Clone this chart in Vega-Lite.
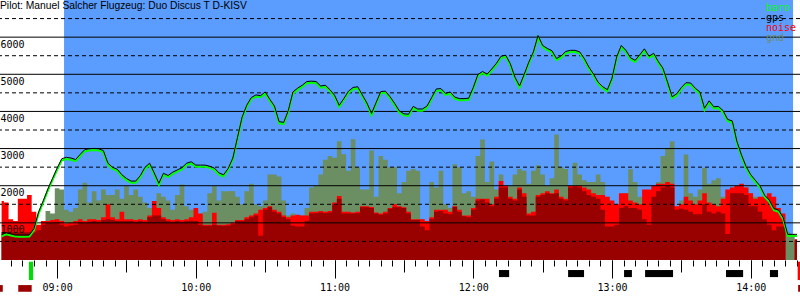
{
  "$schema": "https://vega.github.io/schema/vega-lite/v6.json",
  "width": 800,
  "height": 260,
  "autosize": {"type": "none"},
  "padding": {"left": 0, "top": 0, "right": 0, "bottom": 40},
  "background": "white",
  "title": {"text": "Pilot: Manuel Salcher Flugzeug: Duo Discus T D-KISV", "anchor": "start", "frame": "group", "orient": "top", "offset": -11, "font": "Liberation Sans", "fontSize": 10.3, "fontWeight": "normal", "color": "black"},
  "config": {"view": {"stroke": null}},
  "resolve": {"axis": {"x": "independent"}},
  "datasets": {
    "flight": [{"t": 543.0, "t2": 858.3}],
    "grid": [
      {"v": 500, "s": "dash"}, {"v": 1000, "s": "solid"}, {"v": 1500, "s": "dash"}, {"v": 2000, "s": "solid"},
      {"v": 2500, "s": "dash"}, {"v": 3000, "s": "solid"}, {"v": 3500, "s": "dash"}, {"v": 4000, "s": "solid"},
      {"v": 4500, "s": "dash"}, {"v": 5000, "s": "solid"}, {"v": 5500, "s": "dash"}, {"v": 6000, "s": "solid"},
      {"v": 6500, "s": "dash"}
    ],
    "marks": [
      {"t": 731.1, "t2": 735.5, "a": -270, "a2": -460, "kind": "circling"},
      {"t": 761.0, "t2": 767.9, "a": -270, "a2": -460, "kind": "circling"},
      {"t": 785.2, "t2": 788.6, "a": -270, "a2": -460, "kind": "circling"},
      {"t": 794.3, "t2": 806.4, "a": -270, "a2": -460, "kind": "circling"},
      {"t": 829.3, "t2": 836.7, "a": -270, "a2": -460, "kind": "circling"},
      {"t": 848.3, "t2": 851.8, "a": -270, "a2": -460, "kind": "circling"},
      {"t": 527.8, "t2": 529.6, "a": -46, "a2": -540, "kind": "launch"},
      {"t": 860.3, "t2": 861.3, "a": -46, "a2": -540, "kind": "landing"},
      {"t": 515.3, "t2": 516.5, "a": -675, "a2": -855, "kind": "engine"},
      {"t": 523.2, "t2": 529.0, "a": -675, "a2": -855, "kind": "engine"},
      {"t": 860.5, "t2": 861.3, "a": -675, "a2": -855, "kind": "engine"}
    ],
    "trace": [
      {"t":516,"alt":640,"gps":685,"gnd":600,"hi":1590,"lo":750},
      {"t":518,"alt":690,"gps":735,"gnd":600,"hi":1550,"lo":750},
      {"t":520,"alt":660,"gps":705,"gnd":600,"hi":1100,"lo":750},
      {"t":522,"alt":630,"gps":675,"gnd":600,"hi":1050,"lo":750},
      {"t":524,"alt":628,"gps":673,"gnd":600,"hi":1650,"lo":750},
      {"t":526,"alt":628,"gps":673,"gnd":600,"hi":1650,"lo":750},
      {"t":528,"alt":630,"gps":675,"gnd":600,"hi":1750,"lo":750},
      {"t":530,"alt":800,"gps":845,"gnd":600,"hi":1300,"lo":750},
      {"t":532,"alt":1250,"gps":1295,"gnd":600,"hi":950,"lo":800},
      {"t":534,"alt":1550,"gps":1595,"gnd":600,"hi":1050,"lo":950},
      {"t":536,"alt":1870,"gps":1915,"gnd":1318,"hi":1050,"lo":1000},
      {"t":538,"alt":2150,"gps":2195,"gnd":1250,"hi":1080,"lo":1000},
      {"t":540,"alt":2430,"gps":2475,"gnd":1930,"hi":1100,"lo":1020},
      {"t":542,"alt":2680,"gps":2725,"gnd":1900,"hi":1050,"lo":950},
      {"t":544,"alt":2720,"gps":2765,"gnd":1350,"hi":980,"lo":900},
      {"t":546,"alt":2700,"gps":2745,"gnd":1300,"hi":1000,"lo":930},
      {"t":548,"alt":2660,"gps":2705,"gnd":1400,"hi":1050,"lo":950},
      {"t":550,"alt":2800,"gps":2845,"gnd":1900,"hi":1100,"lo":1020},
      {"t":552,"alt":2930,"gps":2975,"gnd":2080,"hi":1050,"lo":1000},
      {"t":554,"alt":2950,"gps":2995,"gnd":1550,"hi":1100,"lo":1030},
      {"t":556,"alt":2960,"gps":3005,"gnd":1850,"hi":1100,"lo":1050},
      {"t":558,"alt":2950,"gps":2995,"gnd":1600,"hi":1080,"lo":1030},
      {"t":560,"alt":2900,"gps":2945,"gnd":1900,"hi":1150,"lo":1080},
      {"t":562,"alt":2560,"gps":2605,"gnd":1750,"hi":1500,"lo":1100},
      {"t":564,"alt":2450,"gps":2495,"gnd":1750,"hi":1150,"lo":1080},
      {"t":566,"alt":2400,"gps":2445,"gnd":1900,"hi":1100,"lo":1050},
      {"t":568,"alt":2250,"gps":2295,"gnd":1650,"hi":1300,"lo":1050},
      {"t":570,"alt":2150,"gps":2195,"gnd":1990,"hi":1100,"lo":1050},
      {"t":572,"alt":2080,"gps":2125,"gnd":1750,"hi":1100,"lo":1050},
      {"t":574,"alt":2080,"gps":2125,"gnd":1900,"hi":1080,"lo":1030},
      {"t":576,"alt":2230,"gps":2275,"gnd":1700,"hi":1100,"lo":1050},
      {"t":578,"alt":2450,"gps":2495,"gnd":1550,"hi":1080,"lo":1030},
      {"t":580,"alt":2560,"gps":2605,"gnd":1400,"hi":1200,"lo":1150},
      {"t":582,"alt":2300,"gps":2345,"gnd":1500,"hi":1590,"lo":1200},
      {"t":584,"alt":2020,"gps":2065,"gnd":1800,"hi":1400,"lo":1200},
      {"t":586,"alt":2290,"gps":2335,"gnd":1700,"hi":1150,"lo":1100},
      {"t":588,"alt":2230,"gps":2275,"gnd":1600,"hi":1100,"lo":1050},
      {"t":590,"alt":2320,"gps":2365,"gnd":1350,"hi":1080,"lo":1030},
      {"t":592,"alt":2380,"gps":2425,"gnd":1750,"hi":1100,"lo":1050},
      {"t":594,"alt":2440,"gps":2485,"gnd":2036,"hi":1080,"lo":1030},
      {"t":596,"alt":2560,"gps":2605,"gnd":1450,"hi":1100,"lo":1050},
      {"t":598,"alt":2600,"gps":2645,"gnd":1350,"hi":1150,"lo":1060},
      {"t":600,"alt":2510,"gps":2555,"gnd":1350,"hi":1400,"lo":1050},
      {"t":602,"alt":2510,"gps":2555,"gnd":1200,"hi":1250,"lo":950},
      {"t":604,"alt":2510,"gps":2555,"gnd":1300,"hi":950,"lo":920},
      {"t":606,"alt":2480,"gps":2525,"gnd":1800,"hi":950,"lo":920},
      {"t":608,"alt":2430,"gps":2475,"gnd":1990,"hi":1270,"lo":950},
      {"t":610,"alt":2300,"gps":2345,"gnd":1600,"hi":950,"lo":930},
      {"t":612,"alt":2250,"gps":2295,"gnd":1850,"hi":950,"lo":920},
      {"t":614,"alt":2420,"gps":2465,"gnd":1850,"hi":960,"lo":930},
      {"t":616,"alt":2700,"gps":2745,"gnd":1860,"hi":1000,"lo":960},
      {"t":618,"alt":3250,"gps":3295,"gnd":1700,"hi":1080,"lo":1050},
      {"t":620,"alt":3800,"gps":3845,"gnd":1500,"hi":1080,"lo":1050},
      {"t":622,"alt":4120,"gps":4165,"gnd":1850,"hi":1150,"lo":1100},
      {"t":624,"alt":4330,"gps":4375,"gnd":2050,"hi":1200,"lo":1150},
      {"t":626,"alt":4400,"gps":4445,"gnd":1500,"hi":1250,"lo":1200},
      {"t":628,"alt":4380,"gps":4425,"gnd":1450,"hi":1350,"lo":650},
      {"t":630,"alt":4480,"gps":4525,"gnd":1600,"hi":1400,"lo":1350},
      {"t":632,"alt":4280,"gps":4325,"gnd":2300,"hi":1450,"lo":1420},
      {"t":634,"alt":4100,"gps":4145,"gnd":2300,"hi":1350,"lo":1300},
      {"t":636,"alt":3680,"gps":3725,"gnd":2250,"hi":1300,"lo":1250},
      {"t":638,"alt":3660,"gps":3705,"gnd":1600,"hi":1200,"lo":1150},
      {"t":640,"alt":3980,"gps":4025,"gnd":1200,"hi":1150,"lo":1100},
      {"t":642,"alt":4480,"gps":4525,"gnd":1250,"hi":1200,"lo":920},
      {"t":644,"alt":4580,"gps":4625,"gnd":1200,"hi":1220,"lo":900},
      {"t":646,"alt":4660,"gps":4705,"gnd":1200,"hi":1200,"lo":900},
      {"t":648,"alt":4760,"gps":4805,"gnd":1400,"hi":1200,"lo":1050},
      {"t":650,"alt":4770,"gps":4815,"gnd":1950,"hi":1300,"lo":1250},
      {"t":652,"alt":4760,"gps":4805,"gnd":2000,"hi":1300,"lo":1260},
      {"t":654,"alt":4640,"gps":4685,"gnd":2300,"hi":1320,"lo":1280},
      {"t":656,"alt":4660,"gps":4705,"gnd":2700,"hi":1300,"lo":1260},
      {"t":658,"alt":4540,"gps":4585,"gnd":2800,"hi":1320,"lo":1280},
      {"t":660,"alt":4390,"gps":4435,"gnd":2750,"hi":1550,"lo":1500},
      {"t":662,"alt":4120,"gps":4165,"gnd":3200,"hi":1720,"lo":1650},
      {"t":664,"alt":4300,"gps":4345,"gnd":2850,"hi":1300,"lo":1250},
      {"t":666,"alt":4500,"gps":4545,"gnd":2400,"hi":1300,"lo":1250},
      {"t":668,"alt":4600,"gps":4645,"gnd":3250,"hi":1280,"lo":1250},
      {"t":670,"alt":4620,"gps":4665,"gnd":2500,"hi":1300,"lo":1260},
      {"t":672,"alt":4400,"gps":4445,"gnd":1900,"hi":1450,"lo":1420},
      {"t":674,"alt":4180,"gps":4225,"gnd":1900,"hi":1450,"lo":1420},
      {"t":676,"alt":3900,"gps":3945,"gnd":2950,"hi":1430,"lo":1400},
      {"t":678,"alt":4200,"gps":4245,"gnd":1700,"hi":1280,"lo":1250},
      {"t":680,"alt":4490,"gps":4535,"gnd":2800,"hi":1250,"lo":1220},
      {"t":682,"alt":4500,"gps":4545,"gnd":2700,"hi":1300,"lo":1250},
      {"t":684,"alt":4350,"gps":4395,"gnd":2500,"hi":1400,"lo":1380},
      {"t":686,"alt":4170,"gps":4215,"gnd":2500,"hi":1500,"lo":1420},
      {"t":688,"alt":3970,"gps":4015,"gnd":1800,"hi":1450,"lo":1420},
      {"t":690,"alt":3890,"gps":3935,"gnd":2100,"hi":1420,"lo":1400},
      {"t":692,"alt":3880,"gps":3925,"gnd":2400,"hi":1300,"lo":1250},
      {"t":694,"alt":4090,"gps":4135,"gnd":2450,"hi":1100,"lo":1080},
      {"t":696,"alt":4020,"gps":4065,"gnd":2400,"hi":1100,"lo":1080},
      {"t":698,"alt":4020,"gps":4065,"gnd":1100,"hi":1100,"lo":900},
      {"t":700,"alt":4100,"gps":4145,"gnd":1050,"hi":1050,"lo":800},
      {"t":702,"alt":4330,"gps":4375,"gnd":2100,"hi":1150,"lo":1100},
      {"t":704,"alt":4560,"gps":4605,"gnd":1950,"hi":1350,"lo":1300},
      {"t":706,"alt":4570,"gps":4615,"gnd":2400,"hi":1350,"lo":1320},
      {"t":708,"alt":4440,"gps":4485,"gnd":1500,"hi":1350,"lo":1250},
      {"t":710,"alt":4480,"gps":4525,"gnd":1400,"hi":1300,"lo":1230},
      {"t":712,"alt":4340,"gps":4385,"gnd":2575,"hi":1450,"lo":1430},
      {"t":714,"alt":4300,"gps":4345,"gnd":2500,"hi":1350,"lo":1300},
      {"t":716,"alt":4300,"gps":4345,"gnd":1800,"hi":1200,"lo":1180},
      {"t":718,"alt":4310,"gps":4355,"gnd":1850,"hi":1200,"lo":1150},
      {"t":720,"alt":4600,"gps":4645,"gnd":1700,"hi":1400,"lo":1350},
      {"t":722,"alt":4950,"gps":4995,"gnd":2800,"hi":1650,"lo":1600},
      {"t":724,"alt":5030,"gps":5075,"gnd":3247,"hi":1650,"lo":1630},
      {"t":726,"alt":4960,"gps":5005,"gnd":2100,"hi":1650,"lo":1550},
      {"t":728,"alt":5100,"gps":5145,"gnd":2650,"hi":1500,"lo":1450},
      {"t":730,"alt":5250,"gps":5295,"gnd":1900,"hi":1700,"lo":1650},
      {"t":732,"alt":5440,"gps":5485,"gnd":2300,"hi":2126,"lo":1950},
      {"t":734,"alt":5470,"gps":5515,"gnd":1950,"hi":2000,"lo":1950},
      {"t":736,"alt":5240,"gps":5285,"gnd":2000,"hi":1700,"lo":1650},
      {"t":738,"alt":4880,"gps":4925,"gnd":2300,"hi":1650,"lo":1600},
      {"t":740,"alt":4640,"gps":4685,"gnd":2450,"hi":1950,"lo":1900},
      {"t":742,"alt":4950,"gps":4995,"gnd":2400,"hi":1800,"lo":1700},
      {"t":744,"alt":5280,"gps":5325,"gnd":2050,"hi":1250,"lo":1200},
      {"t":746,"alt":5560,"gps":5605,"gnd":2400,"hi":1300,"lo":1200},
      {"t":748,"alt":6000,"gps":6045,"gnd":2550,"hi":1750,"lo":1700},
      {"t":750,"alt":5730,"gps":5775,"gnd":2300,"hi":1800,"lo":1750},
      {"t":752,"alt":5650,"gps":5695,"gnd":2000,"hi":1850,"lo":1800},
      {"t":754,"alt":5590,"gps":5635,"gnd":2200,"hi":1800,"lo":1780},
      {"t":756,"alt":5380,"gps":5425,"gnd":3380,"hi":1900,"lo":1800},
      {"t":758,"alt":5450,"gps":5495,"gnd":2500,"hi":1700,"lo":1650},
      {"t":760,"alt":5570,"gps":5615,"gnd":2450,"hi":1650,"lo":1600},
      {"t":762,"alt":5600,"gps":5645,"gnd":2000,"hi":2000,"lo":1950},
      {"t":764,"alt":5600,"gps":5645,"gnd":2620,"hi":2000,"lo":1980},
      {"t":766,"alt":5560,"gps":5605,"gnd":2300,"hi":2000,"lo":1950},
      {"t":768,"alt":5380,"gps":5425,"gnd":2150,"hi":1950,"lo":1850},
      {"t":770,"alt":5150,"gps":5195,"gnd":2100,"hi":1900,"lo":1750},
      {"t":772,"alt":4960,"gps":5005,"gnd":2100,"hi":1800,"lo":1700},
      {"t":774,"alt":4740,"gps":4785,"gnd":2300,"hi":1750,"lo":1650},
      {"t":776,"alt":4620,"gps":4665,"gnd":2100,"hi":1750,"lo":1350},
      {"t":778,"alt":4540,"gps":4585,"gnd":1700,"hi":1700,"lo":900},
      {"t":780,"alt":4850,"gps":4895,"gnd":1500,"hi":1600,"lo":900},
      {"t":782,"alt":5420,"gps":5465,"gnd":1500,"hi":1500,"lo":950},
      {"t":784,"alt":5730,"gps":5775,"gnd":1700,"hi":1800,"lo":1400},
      {"t":786,"alt":5600,"gps":5645,"gnd":1800,"hi":1800,"lo":1450},
      {"t":788,"alt":5400,"gps":5445,"gnd":2440,"hi":1600,"lo":1400},
      {"t":790,"alt":5330,"gps":5375,"gnd":2100,"hi":1550,"lo":1400},
      {"t":792,"alt":5480,"gps":5525,"gnd":1700,"hi":1500,"lo":1350},
      {"t":794,"alt":5640,"gps":5685,"gnd":1500,"hi":1900,"lo":1100},
      {"t":796,"alt":5440,"gps":5485,"gnd":1700,"hi":1900,"lo":950},
      {"t":798,"alt":5520,"gps":5565,"gnd":1900,"hi":2000,"lo":1700},
      {"t":800,"alt":5300,"gps":5345,"gnd":2100,"hi":2050,"lo":1850},
      {"t":802,"alt":5120,"gps":5165,"gnd":2800,"hi":2050,"lo":1950},
      {"t":804,"alt":4750,"gps":4795,"gnd":3000,"hi":2100,"lo":2000},
      {"t":806,"alt":4350,"gps":4395,"gnd":3200,"hi":2050,"lo":1950},
      {"t":808,"alt":4430,"gps":4475,"gnd":1350,"hi":1450,"lo":1350},
      {"t":810,"alt":4600,"gps":4645,"gnd":1600,"hi":1500,"lo":1380},
      {"t":812,"alt":4730,"gps":4775,"gnd":2840,"hi":1700,"lo":1350},
      {"t":814,"alt":4720,"gps":4765,"gnd":1800,"hi":1600,"lo":1300},
      {"t":816,"alt":4580,"gps":4625,"gnd":1700,"hi":1500,"lo":1230},
      {"t":818,"alt":4480,"gps":4525,"gnd":1900,"hi":1600,"lo":1230},
      {"t":820,"alt":4040,"gps":4085,"gnd":2480,"hi":1800,"lo":1500},
      {"t":822,"alt":4240,"gps":4285,"gnd":2050,"hi":1550,"lo":1300},
      {"t":824,"alt":4080,"gps":4125,"gnd":2150,"hi":1500,"lo":1250},
      {"t":826,"alt":4090,"gps":4135,"gnd":2200,"hi":1450,"lo":1300},
      {"t":828,"alt":3980,"gps":4025,"gnd":1700,"hi":1650,"lo":1250},
      {"t":830,"alt":3740,"gps":3785,"gnd":1500,"hi":1900,"lo":700},
      {"t":832,"alt":3700,"gps":3745,"gnd":1950,"hi":1950,"lo":1800},
      {"t":834,"alt":3150,"gps":3195,"gnd":2000,"hi":2000,"lo":1800},
      {"t":836,"alt":2780,"gps":2825,"gnd":2000,"hi":2050,"lo":1800},
      {"t":838,"alt":2470,"gps":2515,"gnd":1950,"hi":1950,"lo":1750},
      {"t":840,"alt":2250,"gps":2295,"gnd":1800,"hi":1800,"lo":1450},
      {"t":842,"alt":2100,"gps":2145,"gnd":1700,"hi":1650,"lo":1450},
      {"t":844,"alt":1950,"gps":1995,"gnd":1650,"hi":1700,"lo":1300},
      {"t":846,"alt":1700,"gps":1745,"gnd":1600,"hi":1700,"lo":1100},
      {"t":848,"alt":1570,"gps":1615,"gnd":1550,"hi":1800,"lo":950},
      {"t":850,"alt":1340,"gps":1385,"gnd":1500,"hi":1700,"lo":800},
      {"t":852,"alt":1300,"gps":1345,"gnd":1350,"hi":1400,"lo":900},
      {"t":854,"alt":1100,"gps":1145,"gnd":750,"hi":1250,"lo":900},
      {"t":856,"alt":646,"gps":691,"gnd":740,"hi":0,"lo":0},
      {"t":858,"alt":646,"gps":691,"gnd":700,"hi":0,"lo":0},
      {"t":860,"alt":646,"gps":691,"gnd":500,"hi":550,"lo":550}
    ]
  },
  "layer": [
    {
      "data": {"name": "flight"},
      "mark": {"type": "rect", "color": "#5b9cff"},
      "encoding": {
        "x": {
          "field": "t", "type": "quantitative", "title": null,
          "scale": {"domain": [515.3, 861.3], "nice": false, "zero": false},
          "axis": {
            "orient": "bottom",
            "values": [520,525,530,535,540,545,550,555,560,565,570,575,580,585,590,595,600,605,610,615,620,625,630,635,640,645,650,655,660,665,670,675,680,685,690,695,700,705,710,715,720,725,730,735,740,745,750,755,760,765,770,775,780,785,790,795,800,805,810,815,820,825,830,835,840,845,850,855,860],
            "domain": false, "grid": false, "ticks": true, "tickColor": "black", "tickWidth": 1, "tickSize": 6, "labels": false, "title": null
          }
        },
        "x2": {"field": "t2"}
      }
    },
    {
      "data": {"name": "trace"},
      "mark": {"type": "area", "interpolate": "step"},
      "encoding": {
        "x": {
          "field": "t", "type": "quantitative", "title": null,
          "axis": {
            "orient": "bottom",
            "values": [540, 600, 660, 720, 780, 840],
            "domain": false, "grid": false, "ticks": true, "tickColor": "black", "tickWidth": 1, "tickSize": 18,
            "labelExpr": "(datum.value < 600 ? '0' : '') + floor(datum.value / 60) + ':00'",
            "labelFont": "DejaVu Sans Mono", "labelFontSize": 10, "labelColor": "black",
            "labelBaseline": "top", "labelPadding": 4, "labelFlush": false, "labelOverlap": false, "labelBound": false, "title": null
          }
        },
        "y": {
          "field": "gnd", "type": "quantitative", "title": null,
          "scale": {"domain": [0, 7000], "nice": false},
          "axis": {
            "values": [1000, 2000, 3000, 4000, 5000, 6000], "format": "d",
            "domain": false, "ticks": false, "tickSize": 0, "grid": false,
            "labelAlign": "left", "labelBaseline": "top", "labelPadding": 0, "labelOffset": 2,
            "labelFont": "DejaVu Sans Mono", "labelFontSize": 10, "labelColor": "black",
            "labelFlush": false, "labelOverlap": false, "labelBound": false, "zindex": 1
          }
        },
        "color": {
          "datum": "gnd", "type": "nominal",
          "scale": {"domain": ["baro", "gps", "noise", "gnd"], "range": ["#00ff00", "#000000", "#ff0000", "#6b8e63"]},
          "legend": {
            "title": null, "orient": "top-right", "offset": 0, "padding": 3, "rowPadding": 0,
            "symbolSize": 0, "symbolOpacity": 0, "symbolStrokeWidth": 0,
            "labelFont": "DejaVu Sans Mono", "labelFontSize": 10, "labelOffset": 0, "labelLimit": 100,
            "encode": {"labels": {"update": {"fill": {"scale": "color", "field": "value"}}}}
          }
        }
      }
    },
    {
      "data": {"name": "trace"},
      "mark": {"type": "area", "interpolate": "step"},
      "encoding": {
        "x": {
          "field": "t", "type": "quantitative", "title": null,
          "axis": {
            "orient": "bottom",
            "values": [570, 630, 690, 750, 810],
            "domain": false, "grid": false, "ticks": true, "tickColor": "black", "tickWidth": 1, "tickSize": 12, "labels": false, "title": null
          }
        },
        "y": {"field": "hi", "type": "quantitative", "title": null},
        "color": {"datum": "noise", "type": "nominal"}
      }
    },
    {
      "data": {"name": "trace"},
      "mark": {"type": "area", "interpolate": "step", "color": "#990000"},
      "encoding": {
        "x": {"field": "t", "type": "quantitative", "title": null, "axis": null},
        "y": {"field": "lo", "type": "quantitative", "title": null}
      }
    },
    {
      "data": {"name": "grid"},
      "mark": {"type": "rule", "color": "black", "strokeWidth": 1},
      "encoding": {
        "y": {"field": "v", "type": "quantitative", "title": null},
        "strokeDash": {"field": "s", "type": "nominal", "legend": null,
          "scale": {"domain": ["solid", "dash"], "range": [[1, 0], [4, 3]]}}
      }
    },
    {
      "data": {"name": "trace"},
      "mark": {"type": "line", "strokeWidth": 2},
      "encoding": {
        "x": {"field": "t", "type": "quantitative", "title": null, "axis": null},
        "y": {"field": "alt", "type": "quantitative", "title": null},
        "color": {"datum": "baro", "type": "nominal"}
      }
    },
    {
      "data": {"name": "trace"},
      "mark": {"type": "line", "strokeWidth": 1},
      "encoding": {
        "x": {"field": "t", "type": "quantitative", "title": null, "axis": null},
        "y": {"field": "gps", "type": "quantitative", "title": null},
        "color": {"datum": "gps", "type": "nominal"}
      }
    },
    {
      "data": {"name": "marks"},
      "mark": {"type": "rect"},
      "encoding": {
        "x": {"field": "t", "type": "quantitative", "title": null, "axis": null},
        "x2": {"field": "t2"},
        "y": {"field": "a", "type": "quantitative", "title": null},
        "y2": {"field": "a2"},
        "fill": {"field": "kind", "type": "nominal", "legend": null,
          "scale": {"domain": ["circling", "launch", "landing", "engine"], "range": ["#000000", "#00dd00", "#ff0000", "#990000"]}}
      }
    }
  ]
}
